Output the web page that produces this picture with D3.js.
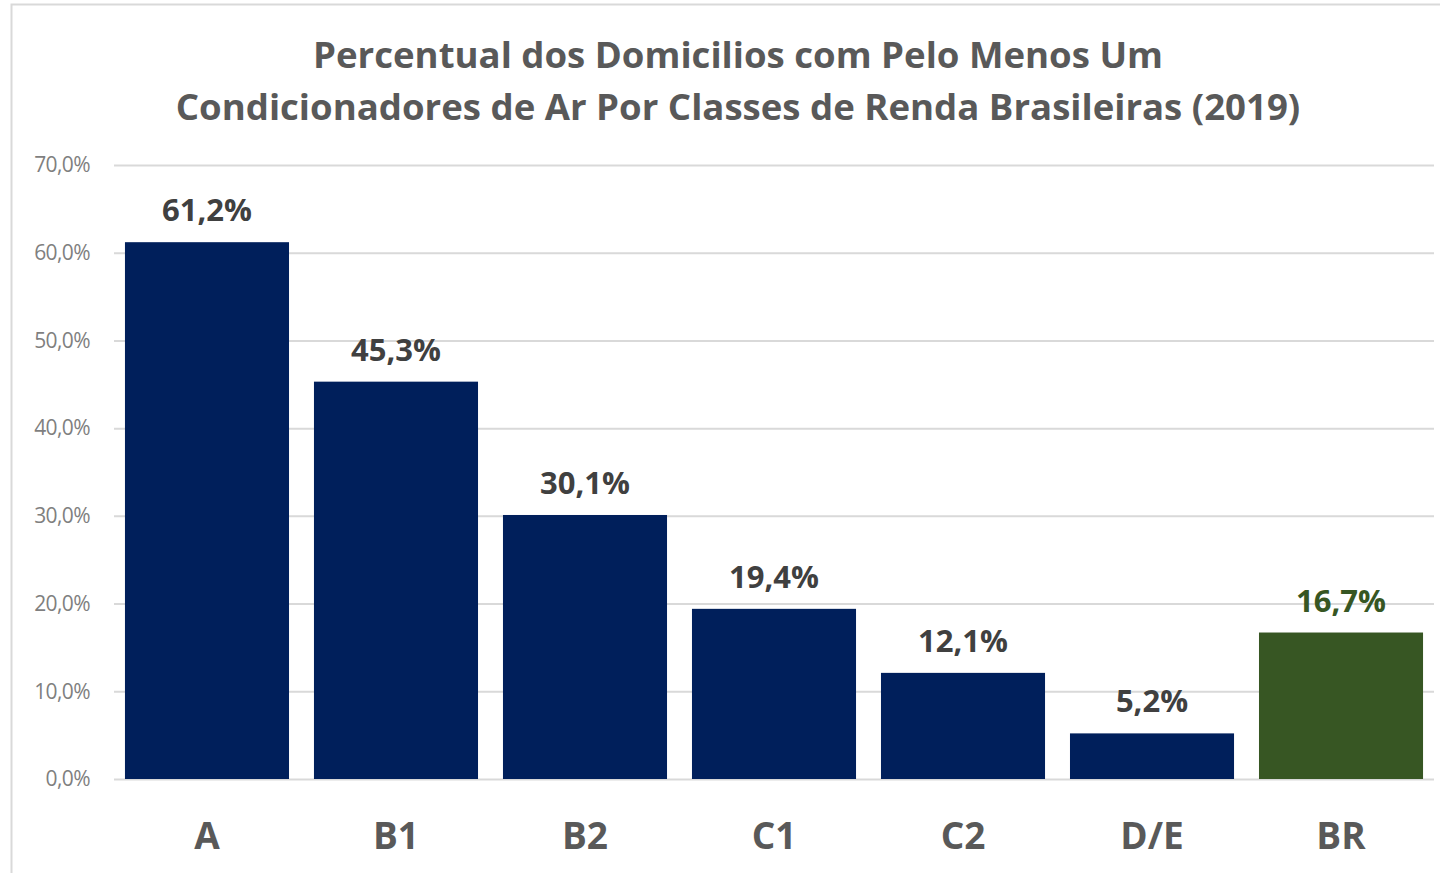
<!DOCTYPE html>
<html><head><meta charset="utf-8">
<script src="https://cdn.jsdelivr.net/npm/d3@7"></script>
<style>
html,body{margin:0;padding:0;background:#fff;}
svg{display:block;}
</style></head>
<body>
<svg id="chart" width="1440" height="873"></svg>
<script>
const categories = ["A","B1","B2","C1","C2","D/E","BR"];
const values = [61.2,45.3,30.1,19.4,12.1,5.2,16.7];
const valueLabels = ["61,2%","45,3%","30,1%","19,4%","12,1%","5,2%","16,7%"];
const yTicks = [0,10,20,30,40,50,60,70];
const titleLines = ["Percentual dos Domicilios com Pelo Menos Um","Condicionadores de Ar Por Classes de Renda Brasileiras (2019)"];

const svg = d3.select("#chart");
const W = 1440, H = 873;
const font = "'Open Sans', sans-serif";

svg.append("rect").attr("x",11.5).attr("y",4.5).attr("width",W).attr("height",H)
  .attr("fill","#fff").attr("stroke","#d9d9d9").attr("stroke-width",2);

const x = d3.scaleBand().domain(categories).range([114,1434]).paddingInner(0.132).paddingOuter(0.058);
const y = d3.scaleLinear().domain([0,70]).range([779,165]);

const fmt = d => d3.format(".1f")(d).replace(".", ",") + "%";

const yAxis = svg.append("g").attr("transform","translate(114,0)")
  .call(d3.axisLeft(y).tickValues(yTicks).tickSize(-1320).tickFormat(fmt));
yAxis.select(".domain").remove();
yAxis.selectAll(".tick line").attr("stroke","#d9d9d9").attr("stroke-width",2);
yAxis.selectAll(".tick text").attr("x",-24).attr("fill","#7f7f7f")
  .style("font-family",font).style("font-size","21px").style("letter-spacing","-0.6px");

svg.append("g").selectAll("rect").data(values).join("rect")
  .attr("x",(d,i)=>x(categories[i]))
  .attr("width",x.bandwidth())
  .attr("y",d=>y(d))
  .attr("height",d=>y(0)-y(d))
  .attr("fill",(d,i)=>categories[i]==="BR"?"#375623":"#001f5b");

svg.append("g").selectAll("text").data(values).join("text")
  .attr("x",(d,i)=>x(categories[i])+x.bandwidth()/2)
  .attr("y",d=>y(d)-21)
  .attr("text-anchor","middle")
  .attr("fill",(d,i)=>categories[i]==="BR"?"#375623":"#404040")
  .style("font-family",font).style("font-weight","bold").style("font-size","31px")
  .text((d,i)=>valueLabels[i]);

const xAxis = svg.append("g").attr("transform","translate(0,779)")
  .call(d3.axisBottom(x).tickSize(0).tickPadding(0));
xAxis.select(".domain").remove();
xAxis.selectAll(".tick text").attr("y",70).attr("dy",null).attr("fill","#595959")
  .style("font-family",font).style("font-weight","bold").style("font-size","37px");

svg.append("g").selectAll("text").data(titleLines).join("text")
  .attr("x",738).attr("y",(d,i)=>68+i*52)
  .attr("text-anchor","middle").attr("fill","#595959")
  .style("font-family",font).style("font-weight","bold").style("font-size","36.6px")
  .text(d=>d);
</script>
</body></html>
